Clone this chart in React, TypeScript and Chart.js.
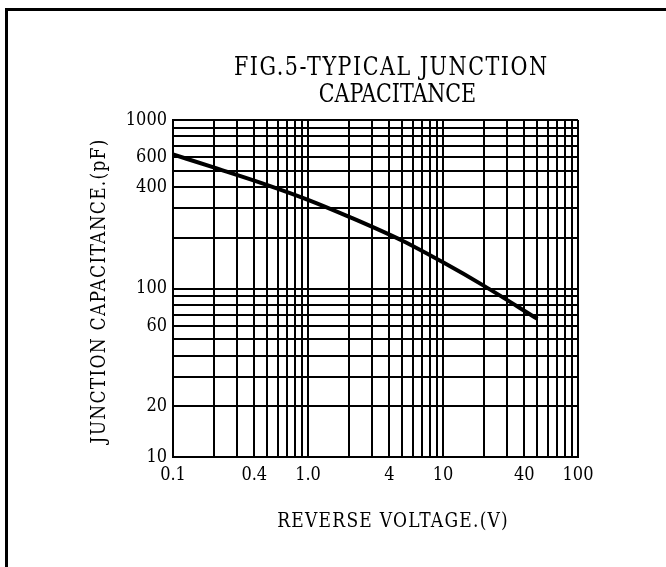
import React, { useEffect, useRef } from 'react';
import { Chart, registerables } from 'chart.js';

Chart.register(...registerables);

// ---- data ----
const voltage = [0.1, 0.2, 0.5, 1, 2, 5, 10, 20, 50];
const capacitance = [625, 523, 411, 336, 267, 192, 143, 104, 66];

const xTickValues = [0.1, 0.4, 1, 4, 10, 40, 100];
const xTickLabels = ['0.1', '0.4', '1.0', '4', '10', '40', '100'];
const yTickValues = [1000, 600, 400, 100, 60, 20, 10];
const yTickLabels = ['1000', '600', '400', '100', '60', '20', '10'];

const titleLines = ['FIG.5-TYPICAL JUNCTION', 'CAPACITANCE'];
const xTitle = 'REVERSE VOLTAGE.(V)';
const yTitle = 'JUNCTION CAPACITANCE.(pF)';

const X_MIN = 0.1, X_MAX = 100, Y_MIN = 10, Y_MAX = 1000;

function logGrid(from: number, to: number): number[] {
  const out: number[] = [];
  for (let d = from; d < to * 0.999; d *= 10) {
    for (let m = 1; m < 10; m++) out.push(+(m * d).toPrecision(6));
  }
  out.push(to);
  return out;
}
const xGrid = logGrid(X_MIN, X_MAX);
const yGrid = logGrid(Y_MIN, Y_MAX);

function labelFor(v: number, vals: number[], labels: string[]): string {
  const i = vals.findIndex((t) => Math.abs(v - t) / t < 1e-6);
  return i >= 0 ? labels[i] : '';
}

const FONT = '"DejaVu Serif Condensed", "DejaVu Serif", "Liberation Serif", serif';

// draw text with a fixed overall width (monospace look), vertical stretch and rotation
function drawText(
  ctx: CanvasRenderingContext2D,
  text: string,
  x: number,
  y: number,
  size: number,
  pitch: number,
  sy: number,
  rot = 0
) {
  ctx.save();
  ctx.translate(x, y);
  if (rot) ctx.rotate(rot);
  ctx.scale(1, sy);
  ctx.font = `${size}px ${FONT}`;
  (ctx as any).letterSpacing = '0px';
  const natural = ctx.measureText(text).width;
  const target = pitch * text.length;
  const ls = (target - natural) / Math.max(1, text.length);
  (ctx as any).letterSpacing = `${ls}px`;
  ctx.fillText(text, ls / 2, 0);
  ctx.restore();
}

const textPlugin = {
  id: 'figText',
  afterDraw(chart: any) {
    const { ctx, chartArea: a } = chart;
    const cx = (a.left + a.right) / 2;
    const cy = (a.top + a.bottom) / 2;
    ctx.save();
    ctx.fillStyle = '#000';
    ctx.textAlign = 'center';
    ctx.textBaseline = 'middle';
    drawText(ctx, titleLines[0], cx + 15, a.top - 52, 23, 14.3, 1.1);
    drawText(ctx, titleLines[1], cx + 22, a.top - 25, 23, 14.3, 1.1);
    drawText(ctx, xTitle, cx + 17, a.bottom + 65, 19, 12.2, 1.1);
    drawText(ctx, yTitle, a.left - 73, cy + 3, 19, 12.2, 1.1, -Math.PI / 2);
    ctx.restore();
  },
};

export default function App() {
  const ref = useRef<HTMLCanvasElement | null>(null);

  useEffect(() => {
    if (!ref.current) return;
    const tickFont = { family: FONT, size: 18 };
    const chart = new Chart(ref.current, {
      type: 'line',
      data: {
        datasets: [
          {
            data: voltage.map((v, i) => ({ x: v, y: capacitance[i] })),
            borderColor: '#000',
            borderWidth: 4,
            pointRadius: 0,
            fill: false,
            cubicInterpolationMode: 'monotone',
          },
        ],
      },
      options: {
        animation: false,
        responsive: false,
        maintainAspectRatio: false,
        layout: { padding: { left: 0, right: 88, top: 120, bottom: 0 } },
        plugins: {
          legend: { display: false },
          tooltip: { enabled: false },
          title: { display: false },
        },
        scales: {
          x: {
            type: 'logarithmic',
            min: X_MIN,
            max: X_MAX,
            position: 'bottom',
            afterBuildTicks: (s: any) => {
              s.ticks = xGrid.map((v) => ({ value: v }));
            },
            afterFit: (s: any) => {
              s.height = 110;
            },
            grid: { color: '#000', lineWidth: 2, drawTicks: false },
            border: { display: true, color: '#000', width: 2 },
            ticks: {
              autoSkip: false,
              maxRotation: 0,
              minRotation: 0,
              padding: 8,
              color: '#000',
              font: tickFont,
              callback: (v: any) => labelFor(Number(v), xTickValues, xTickLabels),
            },
          },
          y: {
            type: 'logarithmic',
            min: Y_MIN,
            max: Y_MAX,
            position: 'left',
            afterBuildTicks: (s: any) => {
              s.ticks = yGrid.map((v) => ({ value: v }));
            },
            afterFit: (s: any) => {
              s.width = 173;
            },
            grid: { color: '#000', lineWidth: 2, drawTicks: false },
            border: { display: true, color: '#000', width: 2 },
            ticks: {
              autoSkip: false,
              padding: 6,
              color: '#000',
              font: tickFont,
              callback: (v: any) => labelFor(Number(v), yTickValues, yTickLabels),
            },
          },
        },
      } as any,
      plugins: [textPlugin],
    });
    return () => chart.destroy();
  }, []);

  return (
    <div
      style={{
        position: 'fixed',
        left: 0,
        top: 0,
        width: 666,
        height: 567,
        overflow: 'hidden',
        background: '#fff',
      }}
    >
      <div
        style={{
          position: 'absolute',
          left: 5,
          top: 8,
          width: 700,
          height: 600,
          borderLeft: '3px solid #000',
          borderTop: '3px solid #000',
        }}
      />
      <canvas
        ref={ref}
        width={666}
        height={567}
        style={{ position: 'absolute', left: 0, top: 0, width: 666, height: 567 }}
      />
    </div>
  );
}
